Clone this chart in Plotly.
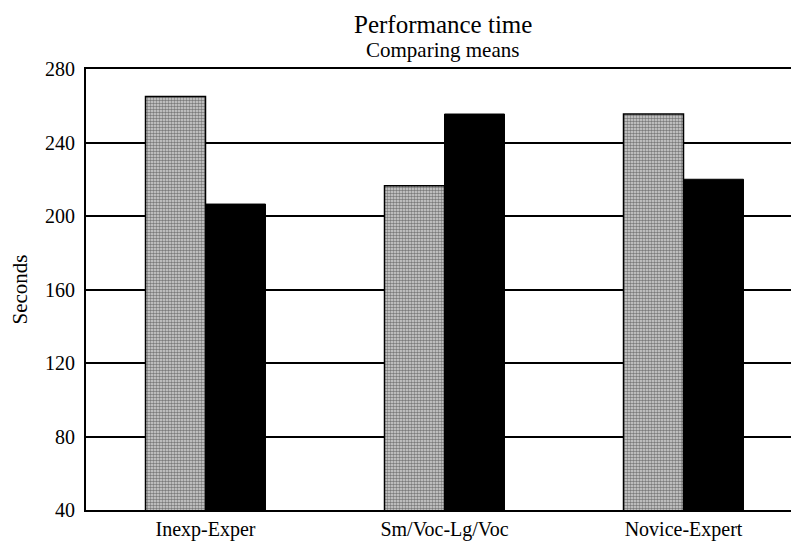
import plotly.graph_objects as go

categories = ["Inexp-Exper", "Sm/Voc-Lg/Voc", "Novice-Expert"]
series_a = [265, 216.5, 255.5]   # stippled gray bars
series_b = [206.5, 255.5, 220]   # black bars
y_ticks = [40, 80, 120, 160, 200, 240, 280]

serif = "Liberation Serif"

fig = go.Figure()
fig.add_trace(go.Bar(
    x=categories, y=series_a, base=0,
    marker=dict(color="#b8b8b8",
                line=dict(color="black", width=1.5),
                pattern=dict(shape=".", fgcolor="#202020", bgcolor="#d6d6d6",
                             size=3, solidity=0.55)),
    showlegend=False,
))
fig.add_trace(go.Bar(
    x=categories, y=series_b, base=0,
    marker=dict(color="black", line=dict(color="black", width=1)),
    showlegend=False,
))

fig.update_layout(
    width=795, height=542,
    margin=dict(l=78, r=0, t=61, b=40),
    paper_bgcolor="white", plot_bgcolor="white",
    barmode="group", bargap=0.498, bargroupgap=0,
    font=dict(family=serif, color="black"),
    annotations=[
        dict(text="Performance time", x=0.5, y=1, xref="paper", yref="paper",
             xanchor="center", yanchor="middle", xshift=-2,
             yshift=45, showarrow=False, font=dict(size=25, family=serif)),
        dict(text="Comparing means", x=0.5, y=1, xref="paper", yref="paper",
             xanchor="center", yanchor="middle", xshift=-2,
             yshift=19, showarrow=False, font=dict(size=21, family=serif)),
    ],
)
fig.update_xaxes(
    showline=True, linecolor="black", linewidth=2, mirror=True,
    showgrid=False, ticks="", ticklabelstandoff=0,
    tickfont=dict(size=20, family=serif), automargin=False,
)
fig.update_yaxes(
    range=[40, 280], tickvals=y_ticks, ticktext=[str(v) for v in y_ticks],
    showline=True, linecolor="black", linewidth=2,
    showgrid=True, gridcolor="black", gridwidth=1.5,
    ticks="", ticklabelstandoff=5, tickfont=dict(size=20, family=serif),
    title=dict(text="Seconds", font=dict(size=21, family=serif), standoff=20),
    zeroline=False, automargin=False,
)

fig.write_html("out.html")
